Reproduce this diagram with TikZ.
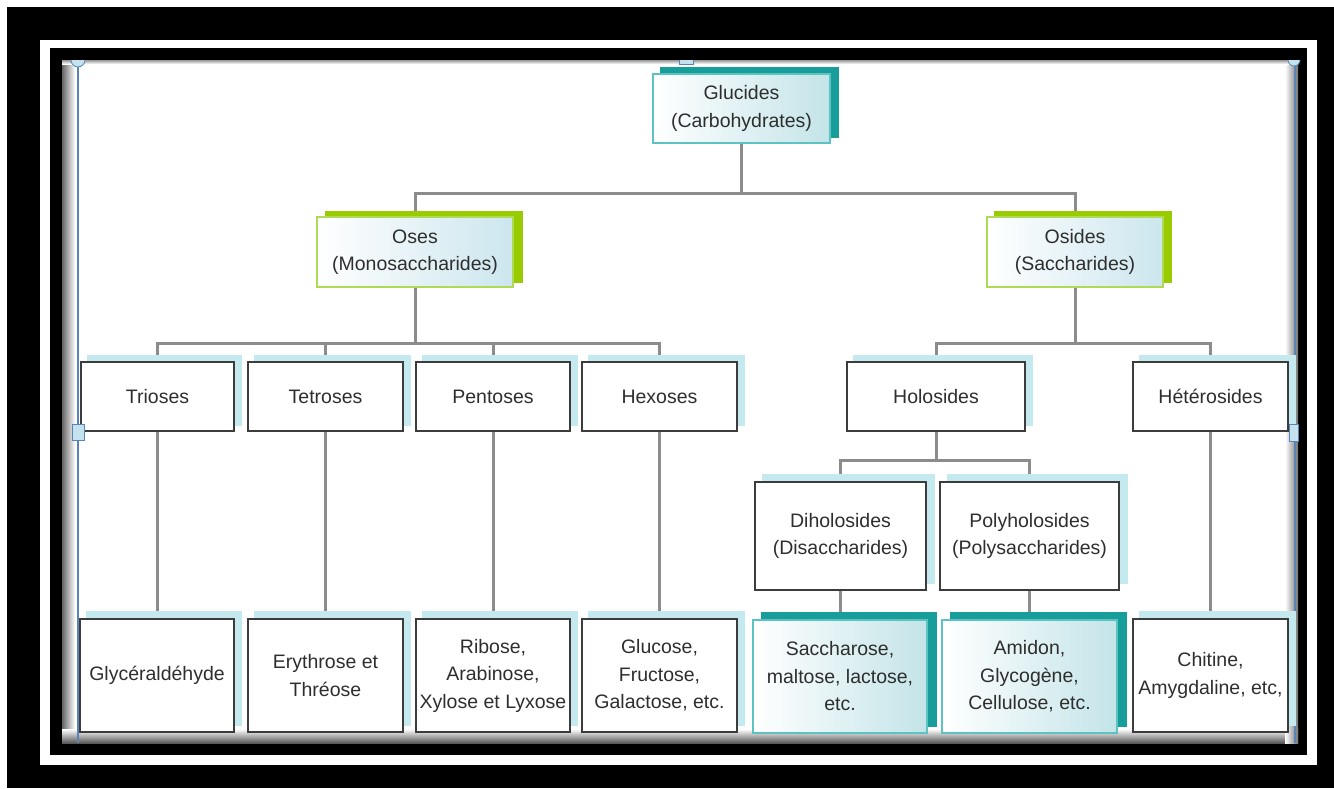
\documentclass[tikz,border=0pt]{standalone}
\usepackage{fontspec}
\setmainfont{Liberation Sans}
\usetikzlibrary{calc}
\pgfdeclarelayer{frame}
\pgfdeclarelayer{conn}
\pgfdeclarelayer{shad}
\pgfsetlayers{frame,conn,shad,main}
\definecolor{txt}{HTML}{2E2E2E}
\definecolor{linegray}{HTML}{8C8C8C}
\definecolor{boxline}{HTML}{3C3C3C}
\definecolor{tealdark}{HTML}{179E9A}
\definecolor{tealline}{HTML}{5CC2C2}
\definecolor{tealfill}{HTML}{C3E4E8}
\definecolor{limegreen}{HTML}{99CC00}
\definecolor{greenline}{HTML}{AEDA55}
\definecolor{bluefill}{HTML}{CCE6EE}
\definecolor{cyanshadow}{HTML}{C4EAF0}
\definecolor{handleblue}{HTML}{5A84B6}
\definecolor{handlefill}{HTML}{C4E2EE}
\newcommand\shbox[4]{\begin{pgfonlayer}{shad}\fill[#4] ([shift={(#2,#3)}]#1.south west) rectangle ([shift={(#2,#3)}]#1.north east);\end{pgfonlayer}}
\begin{document}
\begin{tikzpicture}[x=1pt,y=-1pt,
  every node/.style={font=\fontsize{19.5}{27.5}\selectfont, text=txt, align=center, inner sep=0pt},
  plainbox/.style={draw=boxline, line width=1.4pt, fill=white},
  tealbox/.style={draw=tealline, line width=1.6pt, left color=white, right color=tealfill},
  greenbox/.style={draw=greenline, line width=1.6pt, left color=white, right color=bluefill},
  leafbox/.style={draw=tealline, line width=2pt, shading=axis, shading angle=225, left color=white, right color=tealfill},
  conn/.style={draw=linegray, line width=3pt},
  handle/.style={draw=handleblue, fill=handlefill, line width=0.8pt}
]
\useasboundingbox (0,0) rectangle (1334,788);
\begin{pgfonlayer}{frame}
\fill[white] (0,0) rectangle (1334,788);
\fill[black] (7,7) rectangle (1334,788);
\fill[white] (40,40) rectangle (1317,765);
\fill[black] (50,48) rectangle (1307,755);
\fill[white] (62,60) rectangle (1298,743);
\shade[left color=black!60, right color=white] (62,60) rectangle (75,743);
\shade[top color=white, bottom color=black!65] (62,729) rectangle (1298,743);
\shade[left color=white, right color=black!55] (1285,60) rectangle (1298,743);
\shade[top color=black!40, bottom color=white] (62,60) rectangle (1298,64);
\draw[handleblue, line width=1.5pt] (78,62) -- (78,743);
\draw[handleblue, line width=1.2pt] (1295,62) -- (1295,743);
\end{pgfonlayer}

% level 1
\node[tealbox, minimum width=177pt, minimum height=69pt] (glu) at (741.5,108.5) {Glucides\\(Carbohydrates)};
\shbox{glu}{8}{-6}{tealdark}
% level 2
\node[greenbox, minimum width=196pt, minimum height=70pt] (oses) at (415,252) {Oses\\(Monosaccharides)};
\shbox{oses}{9}{-5}{limegreen}
\node[greenbox, minimum width=176pt, minimum height=70pt] (osid) at (1075,252) {Osides\\(Saccharides)};
\shbox{osid}{8}{-5}{limegreen}
% level 3
\node[plainbox, minimum width=153pt, minimum height=69pt] (tri) at (157.5,396.5) {Trioses};
\node[plainbox, minimum width=155pt, minimum height=69pt] (tet) at (325.5,396.5) {Tetroses};
\node[plainbox, minimum width=154pt, minimum height=69pt] (pen) at (493,396.5) {Pentoses};
\node[plainbox, minimum width=155pt, minimum height=69pt] (hex) at (659.5,396.5) {Hexoses};
\node[plainbox, minimum width=178pt, minimum height=69pt] (hol) at (936,396.5) {Holosides};
\node[plainbox, minimum width=155pt, minimum height=69pt] (het) at (1210.5,396.5) {Hétérosides};
\foreach \n in {tri,tet,pen,hex,hol,het} {\shbox{\n}{7}{-6}{cyanshadow}}
% level 4
\node[plainbox, minimum width=171pt, minimum height=108pt] (dih) at (840.5,536) {Diholosides\\(Disaccharides)};
\node[plainbox, minimum width=179pt, minimum height=108pt] (pol) at (1029.5,536) {Polyholosides\\(Polysaccharides)};
\foreach \n in {dih,pol} {\shbox{\n}{8}{-7}{cyanshadow}}
% level 5
\node[plainbox, minimum width=154pt, minimum height=113pt] (gly) at (157,675.5) {Glycéraldéhyde};
\node[plainbox, minimum width=155pt, minimum height=113pt] (ery) at (325.5,675.5) {Erythrose et\\Thréose};
\node[plainbox, minimum width=154pt, minimum height=113pt] (rib) at (493,675.5) {Ribose,\\Arabinose,\\Xylose et Lyxose};
\node[plainbox, minimum width=155pt, minimum height=113pt] (glc) at (659.5,675.5) {Glucose,\\Fructose,\\Galactose, etc.};
\node[plainbox, minimum width=155pt, minimum height=113pt] (chi) at (1210.5,675.5) {Chitine,\\Amygdaline, etc,};
\foreach \n in {gly,ery,rib,glc,chi} {\shbox{\n}{7}{-7}{cyanshadow}}
\node[leafbox, minimum width=174pt, minimum height=113pt] (sac) at (840,676.5) {Saccharose,\\maltose, lactose,\\etc.};
\node[leafbox, minimum width=175pt, minimum height=113pt] (ami) at (1029.5,676.5) {Amidon,\\Glycogène,\\Cellulose, etc.};
\foreach \n in {sac,ami} {\shbox{\n}{9}{-7}{tealdark}}

% connectors
\begin{pgfonlayer}{conn}
\coordinate (b1) at ($(glu.south)+(0,50)$);
\draw[conn] (glu.south) -- (b1);
\draw[conn] (b1) -| (oses.north);
\draw[conn] (b1) -| (osid.north);
\coordinate (b2) at ($(oses.south)+(0,56)$);
\draw[conn] (oses.south) -- (b2);
\foreach \n in {tri,tet,pen,hex} {\draw[conn] (b2) -| (\n.north);}
\coordinate (b3) at ($(osid.south)+(0,56)$);
\draw[conn] (osid.south) -- (b3);
\foreach \n in {hol,het} {\draw[conn] (b3) -| (\n.north);}
\coordinate (b4) at ($(hol.south)+(0,29)$);
\draw[conn] (hol.south) -- (b4);
\foreach \n in {dih,pol} {\draw[conn] (b4) -| (\n.north);}
\draw[conn] (tri.south) -- (tri.south |- gly.north);
\draw[conn] (tet.south) -- (tet.south |- ery.north);
\draw[conn] (pen.south) -- (pen.south |- rib.north);
\draw[conn] (hex.south) -- (hex.south |- glc.north);
\draw[conn] (het.south) -- (het.south |- chi.north);
\draw[conn] (dih.south) -- (dih.south |- sac.north);
\draw[conn] (pol.south) -- (pol.south |- ami.north);
\end{pgfonlayer}

% selection handles
\draw[handle] (71,60) arc[start angle=180, end angle=0, radius=7];
\draw[handle] (72,424) rectangle (84,440);
\draw[handle] (679,56) rectangle (693,64);
\draw[handle] (1289,424) rectangle (1298,441);
\draw[handle] (1288,60) arc[start angle=180, end angle=0, radius=6];
\fill[black] (50,48) rectangle (1307,60);
\end{tikzpicture}
\end{document}
